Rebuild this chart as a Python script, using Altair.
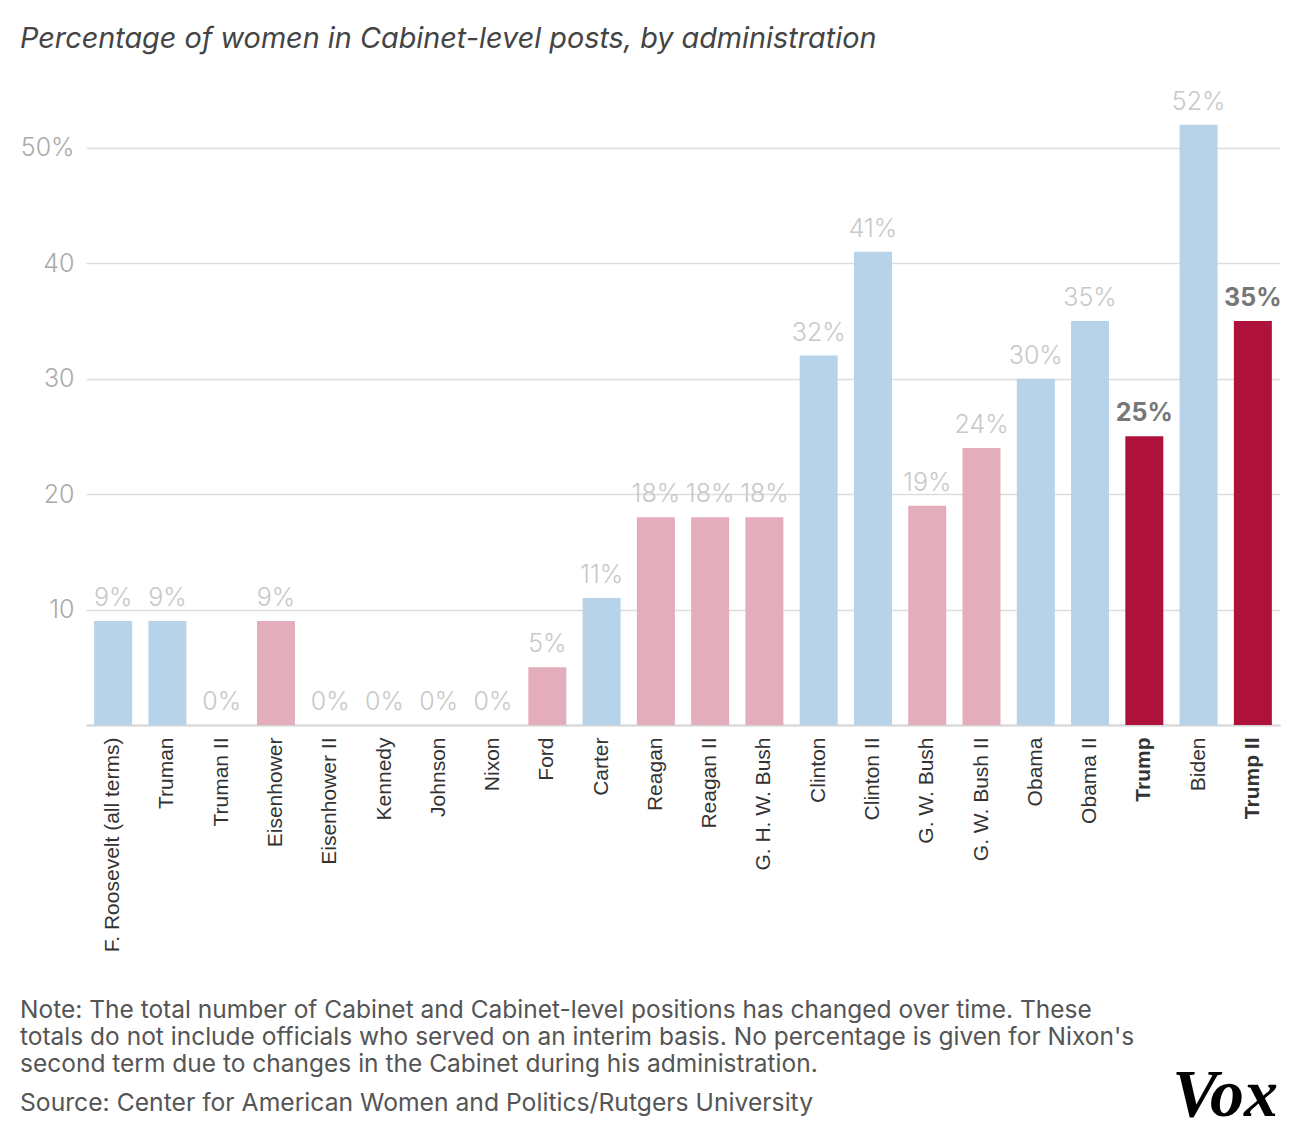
import altair as alt
import pandas as pd

names = ["F. Roosevelt (all terms)", "Truman", "Truman II", "Eisenhower", "Eisenhower II",
         "Kennedy", "Johnson", "Nixon", "Ford", "Carter", "Reagan", "Reagan II",
         "G. H. W. Bush", "Clinton", "Clinton II", "G. W. Bush", "G. W. Bush II",
         "Obama", "Obama II", "Trump", "Biden", "Trump II"]
values = [9, 9, 0, 9, 0, 0, 0, 0, 5, 11, 18, 18, 18, 32, 41, 19, 24, 30, 35, 25, 52, 35]
groups = ["D", "D", "D", "R", "R", "D", "D", "R", "R", "D", "R", "R", "R",
          "D", "D", "R", "R", "D", "D", "T", "D", "T"]

title_text = "Percentage of women in Cabinet-level posts, by administration"
note_lines = [
    "Note: The total number of Cabinet and Cabinet-level positions has changed over time. These",
    "totals do not include officials who served on an interim basis. No percentage is given for Nixon's",
    "second term due to changes in the Cabinet during his administration.",
]
source_text = "Source: Center for American Women and Politics/Rutgers University"

df = pd.DataFrame({"name": names, "value": values, "group": groups})
df["label"] = df["value"].astype(str) + "%"

FONT = "Inter"
W, H = 1194, 635

x = alt.X("name:N", sort=names, title=None,
          scale=alt.Scale(paddingInner=0.3, paddingOuter=0.15),
          axis=alt.Axis(labelAngle=-90, labelFont="Liberation Sans", labelFontSize=21,
                        labelColor="#333", labelPadding=12, ticks=False, labelLimit=400,
                        domainColor="#d6d6d6", domainWidth=2,
                        labelFontWeight={"condition": {"test": "datum.value == 'Trump' || datum.value == 'Trump II'",
                                                       "value": "bold"}, "value": "normal"}))
y = alt.Y("value:Q", title=None,
          scale=alt.Scale(domain=[0, 55], nice=False),
          axis=alt.Axis(values=[0, 10, 20, 30, 40, 50], domain=False, ticks=False,
                        labelFont=FONT, labelFontSize=25, labelColor="#aaaaaa",
                        labelFontWeight=300,
                        labelPadding=12, gridColor="#dddddd", gridWidth=1.5,
                        labelExpr="datum.value == 50 ? '50%' : (datum.value == 0 ? '' : datum.label)"))

base = alt.Chart(df)

bars = base.mark_bar().encode(
    x=x, y=y,
    color=alt.Color("group:N", legend=None,
                    scale=alt.Scale(domain=["D", "R", "T"],
                                    range=["#b6d3ea", "#e3adbb", "#ae123a"])),
)

labels = base.transform_filter("datum.group != 'T'").mark_text(
    font=FONT, fontSize=25, fontWeight=300, baseline="alphabetic", dy=-15, color="#c8c8c8"
).encode(
    x=alt.X("name:N", sort=names),
    y=alt.Y("value:Q"),
    text="label:N",
)
labels_hi = base.transform_filter("datum.group == 'T'").mark_text(
    font=FONT, fontSize=25, baseline="alphabetic", dy=-15, color="#777777", fontWeight="bold"
).encode(
    x=alt.X("name:N", sort=names),
    y=alt.Y("value:Q"),
    text="label:N",
)

title = alt.Chart(pd.DataFrame({"t": [title_text]})).mark_text(
    font=FONT, fontSize=28.8, fontStyle="italic", color="#444444", align="left", baseline="alphabetic"
).encode(x=alt.value(-66), y=alt.value(-42), text="t:N")

notes = alt.Chart(pd.DataFrame({"t": ["\n".join(note_lines)]})).mark_text(
    font=FONT, fontSize=24.5, color="#555555", align="left", baseline="alphabetic",
    lineBreak="\n", lineHeight=27
).encode(x=alt.value(-66), y=alt.value(928), text="t:N")

source = alt.Chart(pd.DataFrame({"t": [source_text]})).mark_text(
    font=FONT, fontSize=24.7, color="#555555", align="left", baseline="alphabetic"
).encode(x=alt.value(-66), y=alt.value(1021), text="t:N")

logo = alt.Chart(pd.DataFrame({"t": ["Vox"]})).mark_text(
    font="Liberation Serif", fontSize=68, fontWeight="bold", fontStyle="italic",
    color="#000000", align="right", baseline="alphabetic"
).encode(x=alt.value(W - 2), y=alt.value(1026), text="t:N")

chart = alt.layer(bars, labels, labels_hi, title, notes, source, logo).properties(
    width=W, height=H,
    autosize=alt.AutoSizeParams(type="none"),
    padding={"left": 78, "top": 82, "right": 12, "bottom": 407},
).configure_view(stroke=None).configure_axis(labelFont=FONT)

chart.save("out.html", embed_options={"renderer": "svg", "actions": False})
